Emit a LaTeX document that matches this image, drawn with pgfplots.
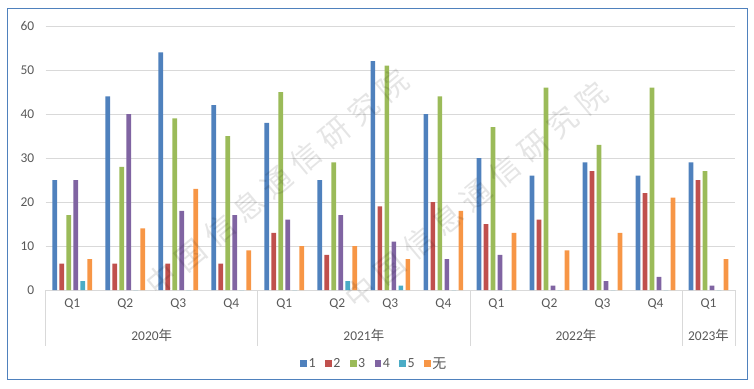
\documentclass[border=0pt]{standalone}
\usepackage{fontspec}
\setmainfont{Carlito}
\newfontfamily\cjk{Noto Sans CJK SC}
\newfontfamily\wm[LetterSpace=26]{Noto Sans CJK SC}
\usepackage{pgfplots}
\usepackage{pgfplotstable}
\pgfplotsset{compat=1.18}
\definecolor{cA}{HTML}{4F81BD}
\definecolor{cB}{HTML}{C0504D}
\definecolor{cC}{HTML}{9BBB59}
\definecolor{cD}{HTML}{8064A2}
\definecolor{cE}{HTML}{4BACC6}
\definecolor{cF}{HTML}{F79646}
\definecolor{gridc}{HTML}{D9D9D9}
\definecolor{txt}{HTML}{595959}
\definecolor{frame}{HTML}{4F81BD}
\pgfplotstableread{
x a b c d e f
0 25 6 17 25 2 7
1 44 6 28 40 0 14
2 54 6 39 18 0 23
3 42 6 35 17 0 9
4 38 13 45 16 0 10
5 25 8 29 17 2 10
6 52 19 51 11 1 7
7 40 20 44 7 0 18
8 30 15 37 8 0 13
9 26 16 46 1 0 9
10 29 27 33 2 0 13
11 26 22 46 3 0 21
12 29 25 27 1 0 7
}\datatab
\begin{document}
\begin{tikzpicture}[x=1bp,y=1bp]
\path[use as bounding box] (0,0) rectangle (754,388);
\draw[frame, line width=1bp] (7,9) rectangle (747,379);
\begin{axis}[
  at={(45.7bp,98bp)}, anchor=south west,
  scale only axis, width=689.3bp, height=264bp,
  xmin=-0.5, xmax=12.5, ymin=0, ymax=60,
  ytick={0,10,...,60},
  xtick={0,...,12},
  xticklabels={Q1,Q2,Q3,Q4,Q1,Q2,Q3,Q4,Q1,Q2,Q3,Q4,Q1},
  axis x line*=bottom, axis y line*=left,
  x axis line style={draw=gridc, line width=0.75bp, -},
  y axis line style={draw=none},
  major tick length=0pt,
  ymajorgrids, grid style={draw=gridc, line width=0.75bp},
  tick label style={font=\fontsize{13.5}{15}\selectfont, text=txt},
  /pgf/number format/assume math mode=true,
  yticklabel style={xshift=-8bp},
  xticklabel style={yshift=-5bp},
  ybar, bar width=4.7bp,
  every axis plot/.append style={draw=none},
  clip=false,
  legend columns=6,
  legend style={at={(0.4765,-0.28)}, anchor=center, draw=none, fill=none,
    font=\fontsize{14}{16}\selectfont, text=txt,
    nodes={inner sep=1.5bp, font=\fontsize{14}{16}\selectfont},
    /tikz/every even column/.append style={column sep=8bp}},
  legend image code/.code={\fill[#1,draw=none] (0bp,-3.5bp) rectangle (6.7bp,3.5bp);},
]
\addplot[fill=cA, bar shift=-17.5bp] table[x=x,y=a]{\datatab};
\addplot[fill=cB, bar shift=-10.5bp] table[x=x,y=b]{\datatab};
\addplot[fill=cC, bar shift=-3.5bp] table[x=x,y=c]{\datatab};
\addplot[fill=cD, bar shift=3.5bp] table[x=x,y=d]{\datatab};
\addplot[fill=cE, bar shift=10.5bp] table[x=x,y=e]{\datatab};
\addplot[fill=cF, bar shift=17.5bp] table[x=x,y=f]{\datatab};
\legend{1,2,3,4,5,{\cjk 无}}
\foreach \s in {-0.5,3.5,7.5,11.5,12.5}{
  \edef\tmp{\noexpand\draw[gridc, line width=0.75bp] (axis cs:\s,0) -- ([yshift=-56bp]axis cs:\s,0);}\tmp
}
\node[text=txt, font=\fontsize{13.5}{15}\selectfont] at ([yshift=-45bp]axis cs:1.5,0) {2020{\cjk 年}};
\node[text=txt, font=\fontsize{13.5}{15}\selectfont] at ([yshift=-45bp]axis cs:5.5,0) {2021{\cjk 年}};
\node[text=txt, font=\fontsize{13.5}{15}\selectfont] at ([yshift=-45bp]axis cs:9.5,0) {2022{\cjk 年}};
\node[text=txt, font=\fontsize{13.5}{15}\selectfont] at ([yshift=-45bp]axis cs:12,0) {2023{\cjk 年}};
\end{axis}
\node[rotate=40, text=black, opacity=0.1, font=\wm\fontsize{30}{32}\selectfont] at (277,206) {中国信息通信研究院};
\node[rotate=40, text=black, opacity=0.1, font=\wm\fontsize{30}{32}\selectfont] at (476,193) {中国信息通信研究院};
\end{tikzpicture}
\end{document}
